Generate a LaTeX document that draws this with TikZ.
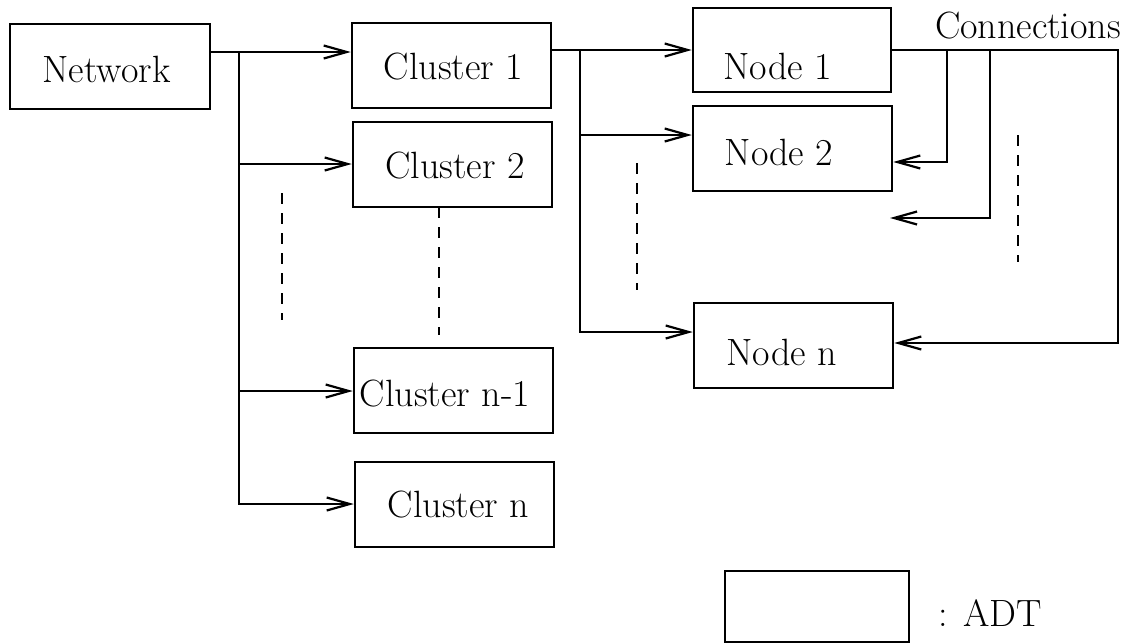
\documentclass[tikz,border=0pt]{standalone}
\usetikzlibrary{arrows.meta}
\begin{document}
\begin{tikzpicture}[x=1pt,y=-1pt,
  box/.style={draw, line width=2.5pt, inner sep=0pt, minimum width=199pt, minimum height=85pt},
  lbl/.style={font=\fontsize{38}{46}\selectfont, inner sep=0pt},
  wire/.style={line width=2.2pt},
  arr/.style={wire, -{Straight Barb[length=23pt,width=13pt]}},
  dsh/.style={line width=2.2pt, dash pattern=on 11pt off 9pt}]
\useasboundingbox (0,0) rectangle (1130,643);

% boxes
\node[box, minimum width=200pt] (net) at (110,66.5) {};
\node[box] (c1)  at (451.5,65.5) {};
\node[box] (c2)  at (452.5,164.5) {};
\node[box] (cn1) at (453.5,390.5) {};
\node[box] (cn)  at (454.5,504.5) {};
\node[box, minimum width=198pt, minimum height=84pt] (n1) at (792,50) {};
\node[box] (n2)  at (792.5,148.5) {};
\node[box] (nn)  at (793.5,345.5) {};
\node[box, minimum width=184pt, minimum height=71pt] (adt) at (817,606.5) {};

% texts
\node[lbl] (netT) at (106.5,69.5) {Network};
\node[lbl] (c1T)  at (453.5,66.5) {Cluster 1};
\node[lbl] (c2T)  at (455,165.5) {Cluster 2};
\node[lbl] (cn1T) at (445,393.5) {Cluster n-1};
\node[lbl] (cnT)  at (458.5,505) {Cluster n};
\node[lbl] (n1T)  at (777.5,66) {Node 1};
\node[lbl] (n2T)  at (779,152.5) {Node 2};
\node[lbl] (nnT)  at (781.5,352) {Node n};
\node[lbl] (conn) at (1028,26) {Connections};
\node[lbl] (adtT) at (990.5,613.5) {: ADT};

% network -> clusters
\coordinate (t0) at (239,52);
\coordinate (t2) at (239,164);
\coordinate (t3) at (239,391);
\coordinate (t4) at (239,504);
\draw[arr] (net.east |- t0) -- (c1.west |- t0);
\draw[arr] (t2) -- (c2.west |- t2);
\draw[arr] (t3) -- (cn1.west |- t3);
\draw[arr] (t0) |- (cn.west |- t4);

% cluster 1 -> nodes
\coordinate (u0) at (580,50);
\coordinate (u2) at (580,135);
\coordinate (u3) at (580,332);
\draw[arr] (c1.east |- u0) -- (n1.west |- u0);
\draw[arr] (u2) -- (n2.west |- u2);
\draw[arr] (u0) |- (nn.west |- u3);

% connections
\coordinate (v1) at (947,50);
\coordinate (v2) at (990,50);
\coordinate (v3) at (1118,50);
\coordinate (w1) at (947,162);
\coordinate (w3) at (1118,343);
\coordinate (free) at (890,218);
\draw[arr] (n1.east |- v3) -- (v3) |- (nn.east |- w3);
\draw[arr] (v1) |- (n2.east |- w1);
\draw[arr] (v2) |- (free);

% dashed ellipsis lines
\coordinate (d1a) at (282,193);  \coordinate (d1b) at (282,320);
\coordinate (d2a) at (439,207);  \coordinate (d2b) at (439,335);
\coordinate (d3a) at (637,163);  \coordinate (d3b) at (637,290);
\coordinate (d4a) at (1018,135); \coordinate (d4b) at (1018,262);
\draw[dsh] (d1a) -- (d1b);
\draw[dsh] (d2a) -- (d2b);
\draw[dsh] (d3a) -- (d3b);
\draw[dsh] (d4a) -- (d4b);
\end{tikzpicture}
\end{document}
